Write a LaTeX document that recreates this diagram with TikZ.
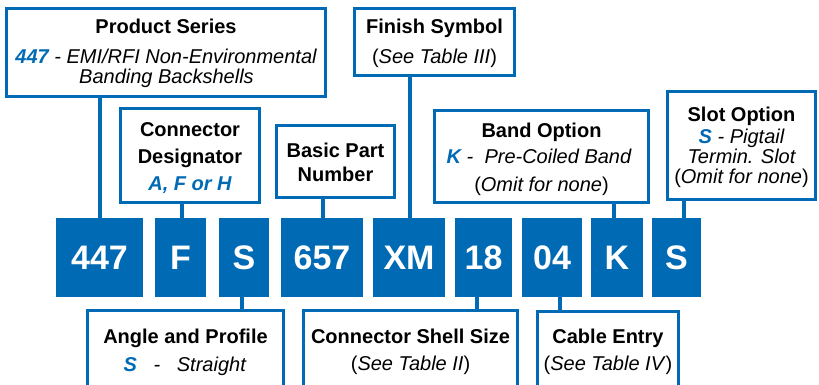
\documentclass[tikz,border=0pt]{standalone}
\usepackage{fontspec}
\setmainfont{Liberation Sans}
\definecolor{bl}{RGB}{0,106,180}
\tikzset{
 box/.style={draw=bl, line width=3pt, fill=white, inner sep=0pt, outer sep=0pt, rectangle},
 code/.style={fill=bl, text=white, inner sep=0pt, outer sep=0pt, rectangle, minimum height=79pt, font=\fontsize{34}{34}\selectfont\bfseries},
 lnk/.style={draw=bl, line width=4pt},
 txt/.style={anchor=base, inner sep=0pt, outer sep=0pt, font=\fontsize{20}{24}\selectfont},
 ttl/.style={txt, font=\fontsize{20}{24}\selectfont\bfseries},
}
\newcommand{\hlt}[1]{{\color{bl}\bfseries\itshape #1}}
\begin{document}
\begin{tikzpicture}[x=1pt,y=-1pt]
\useasboundingbox (0,0) rectangle (819,385);
\clip (0,0) rectangle (819,385);
% code boxes
\node[code, minimum width=87pt] (c447) at (99.5,257.5) {447};
\node[code, minimum width=51pt] (cF) at (180.5,257.5) {F};
\node[code, minimum width=50pt] (cS) at (244,257.5) {S};
\node[code, minimum width=82pt] (c657) at (322,257.5) {657};
\node[code, minimum width=72pt] (cXM) at (409,257.5) {XM};
\node[code, minimum width=57pt] (c18) at (483.5,257.5) {18};
\node[code, minimum width=60pt] (c04) at (552,257.5) {04};
\node[code, minimum width=52pt] (cK) at (617,257.5) {K};
\node[code, minimum width=49pt] (cS2) at (676.5,257.5) {S};
% label boxes
\node[box, minimum width=319pt, minimum height=88pt] (ps) at (166,52.5) {};
\node[box, minimum width=139pt, minimum height=94pt] (cd) at (190,155.5) {};
\node[box, minimum width=118pt, minimum height=72pt] (bpn) at (335.5,161.5) {};
\node[box, minimum width=160pt, minimum height=67pt] (fs) at (434.5,42) {};
\node[box, minimum width=214pt, minimum height=92pt] (bo) at (541.5,156.5) {};
\node[box, minimum width=148pt, minimum height=108pt] (so) at (741.5,145.5) {};
\node[box, minimum width=196pt, minimum height=108pt] (ap) at (185.5,364.5) {};
\node[box, minimum width=214pt, minimum height=108pt] (css) at (410.5,364.5) {};
\node[box, minimum width=141pt, minimum height=108pt] (ce) at (608,365) {};
% connectors
\draw[lnk] ([xshift=0.5pt]c447.north) -- ([xshift=0.5pt]c447.north |- ps.south);
\draw[lnk] ([xshift=1.5pt]cF.north) -- ([xshift=1.5pt]cF.north |- cd.south);
\draw[lnk] ([xshift=1pt]c657.north) -- ([xshift=1pt]c657.north |- bpn.south);
\draw[lnk] ([xshift=1pt]cXM.north) -- ([xshift=1pt]cXM.north |- fs.south);
\draw[lnk] ([xshift=-3pt]cK.north) -- ([xshift=-3pt]cK.north |- bo.south);
\draw[lnk] ([xshift=7.5pt]cS2.north) -- ([xshift=7.5pt]cS2.north |- so.south);
\draw[lnk] ([xshift=-2pt]cS.south) -- ([xshift=-2pt]cS.south |- ap.north);
\draw[lnk] ([xshift=-7pt]c18.south) -- ([xshift=-7pt]c18.south |- css.north);
\draw[lnk] ([xshift=8pt]c04.south) -- ([xshift=8pt]c04.south |- ce.north);
% texts
\node[ttl] (ps1) at (166,33.3) {Product Series};
\node[txt] (ps2) at (166,63.3) {\hlt{447} \itshape - EMI/RFI Non-Environmental};
\node[txt] (ps3) at (166.5,83.3) {\itshape Banding Backshells};
\node[ttl] (fs1) at (434.5,33.3) {Finish Symbol};
\node[txt] (fs2) at (434.5,63.3) {(\textit{See Table III})};
\node[ttl] (cd1) at (190,136.7) {Connector};
\node[ttl] (cd2) at (190,163.3) {Designator};
\node[txt] (cd3) at (190,190.7) {\hlt{A, F or H}};
\node[ttl] (bp1) at (335.5,157.3) {Basic Part};
\node[ttl] (bp2) at (335.5,181.7) {Number};
\node[ttl] (bo1) at (541.5,137.3) {Band Option};
\node[txt] (bo2) at (539,164) {\hlt{K} \itshape -\ \ Pre-Coiled Band};
\node[txt] (bo3) at (541.5,191) {(\textit{Omit for none})};
\node[ttl] (so1) at (741.5,121.5) {Slot Option};
\node[txt] (so2) at (741.5,143) {\hlt{S} \itshape - Pigtail};
\node[txt] (so3) at (741.5,163) {\itshape Termin. Slot};
\node[txt] (so4) at (741.5,183) {(\textit{Omit for none})};
\node[ttl] (ap1) at (185.5,343.3) {Angle and Profile};
\node[txt] (ap2) at (184.7,371) {\hlt{S}\ \ \ \itshape -\ \ \ Straight};
\node[ttl] (cs1) at (410.5,343.3) {Connector Shell Size};
\node[txt] (cs2) at (410.5,370) {(\textit{See Table II})};
\node[ttl] (ce1) at (608,343.3) {Cable Entry};
\node[txt] (ce2) at (608,370) {(\textit{See Table IV})};
\end{tikzpicture}
\end{document}
